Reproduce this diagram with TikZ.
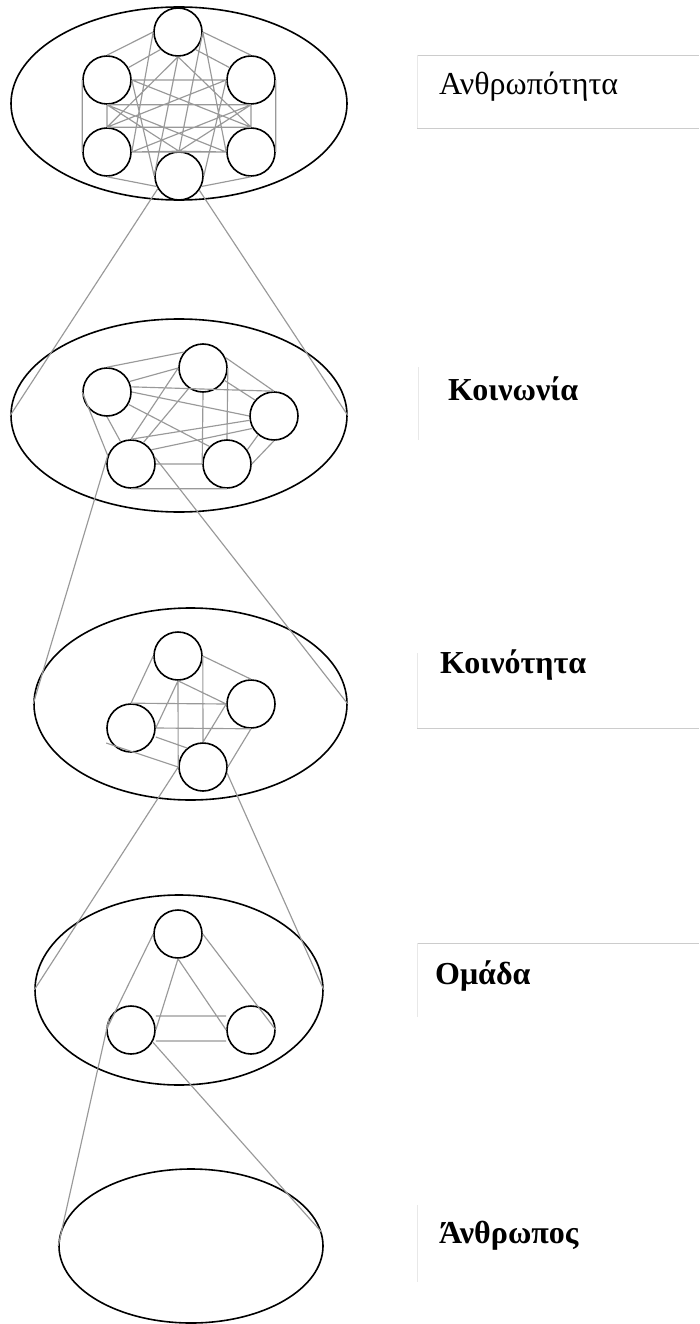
\documentclass[tikz,border=0pt]{standalone}
\usepackage{fontspec}
\setmainfont{Liberation Serif}
\usetikzlibrary{shapes.geometric}
\begin{document}
\begin{tikzpicture}[x=1pt,y=-1pt,
  person/.style={circle,draw=black,line width=1.6pt,minimum size=48pt,inner sep=0pt},
  group/.style={ellipse,draw=black,line width=1.6pt,inner sep=0pt},
  link/.style={draw=black!40,line width=1.15pt},
  frame/.style={draw=black!20,line width=0.9pt},
  framev/.style={draw=black!9,line width=0.9pt},
  lbl/.style={anchor=base west,inner sep=0pt,font=\fontsize{32}{38}\selectfont},
  lblb/.style={lbl,font=\fontsize{32}{38}\selectfont\bfseries}]
\useasboundingbox (0,0) rectangle (699,1324);
\fill[white] (0,0) rectangle (699,1324);

% ---------- ellipses ----------
\node[group,minimum width=336pt,minimum height=193pt] (g1) at (179,103.5) {};
\node[group,minimum width=336pt,minimum height=193pt] (g2) at (179,415.5) {};
\node[group,minimum width=313pt,minimum height=192pt] (g3) at (190.5,704) {};
\node[group,minimum width=288pt,minimum height=190pt] (g4) at (179,990) {};
\node[group,minimum width=264pt,minimum height=154pt] (g5) at (191,1246) {};

% ---------- level 1 ----------
\node[person] (at) at (178,32) {};
\node[person] (aul) at (107,80) {};
\node[person] (aur) at (251,80) {};
\node[person] (all) at (107,152) {};
\node[person] (alr) at (251,152) {};
\node[person] (ab) at (179,176) {};
\path[link]
  (aul.east) -- (aur.west)  (aul.south) -- (aur.south)
  (all.east) -- (alr.west)  (all.north) -- (alr.north)
  (aul.west) -- (all.west)  (aul.south) -- (all.north)
  (aur.east) -- (alr.east)  (aur.south) -- (alr.north)
  (aul.east) -- (alr.north) (aul.south) -- (alr.west)
  (aur.west) -- (all.north) (aur.south) -- (all.east)
  (at.west) -- (aul.north)  (at.225) -- (aul.30)
  (at.east) -- (aur.north)  (at.315) -- (aur.150)
  (at.south) -- (all.north) (at.west) -- (all.east)
  (at.south) -- (alr.north) (at.east) -- (alr.west)
  (at.south) -- (ab.west)   (at.east) -- (ab.north)
  (ab.205) -- (all.south)   (ab.north) -- (all.east)
  (ab.335) -- (alr.south)   (ab.north) -- (alr.west)
  (ab.north) -- (aul.south) (ab.west) -- (aul.east)
  (ab.north) -- (aur.south) (ab.east) -- (aur.west);

% ---------- level 2 ----------
\node[person] (ba) at (107,392) {};
\node[person] (bb) at (203,368) {};
\node[person] (bc) at (274,416) {};
\node[person] (bd) at (131,464) {};
\node[person] (be) at (227,464) {};
\path[link]
  (ba.north) -- (bb.140)   (ba.25) -- (bb.west)
  (ba.12) -- (bc.north)    (ba.east) -- (bc.west)
  (ba.330) -- (be.135)
  (ba.west) -- (bd.160)    (ba.south) -- (bd.115)
  (bb.west) -- (bd.north)  (bb.235) -- (bd.60)
  (bb.south) -- (be.west)  (bb.east) -- (be.north)
  (bb.25) -- (bc.north)    (bb.330) -- (bc.140)
  (bc.190) -- (bd.north)   (bc.210) -- (bd.35)
  (bc.south) -- (be.east)  (bc.230) -- (be.35)
  (bd.east) -- (be.west)   (bd.south) -- (be.south);

% ---------- level 3 ----------
\node[person] (ct) at (178,656) {};
\node[person] (cr) at (251,704) {};
\node[person] (cl) at (131,728) {};
\node[person] (cb) at (203,767) {};
\path[link]
  (ct.west) -- (cl.north)   (ct.south) -- (cl.east)
  (ct.south) -- (cb.west)   (ct.east) -- (cb.north)
  (ct.east) -- (cr.north)   (ct.south) -- (cr.west)
  (cl.north) -- (cr.west)   (cl.east) -- (cr.south)
  ([yshift=-15pt]cl.west) -- (cb.west)
  ([yshift=-9pt]cl.east) -- (cb.130)
  (cr.west) -- (cb.north)   (cr.south) -- (cb.east);

% ---------- level 4 ----------
\node[person] (dt) at (178,934) {};
\node[person] (dl) at (131,1030) {};
\node[person] (dr) at (251,1030) {};
\path[link]
  (dt.west) -- (dl.west)    (dt.south) -- (dl.east)
  (dt.south) -- (dr.west)   (dt.east) -- (dr.east)
  ([yshift=14pt]dl.east) -- ([yshift=14pt]dr.west)
  ([yshift=-11pt]dl.east) -- ([yshift=-11pt]dr.west);

% ---------- zoom cones ----------
\path[link]
  (ab.211) -- (g2.west)  (ab.325) -- (g2.east)
  (bd.160) -- (g3.west)  (bd.16) -- (g3.east)
  (cb.west) -- (g4.west) (cb.346) -- (g4.east)
  (dl.152) -- (g5.west)  (dl.331) -- (g5.6);

% ---------- label frames ----------
\coordinate (f1a) at (417,55);  \coordinate (f1b) at (699,55);
\coordinate (f1c) at (417,128); \coordinate (f1d) at (699,128);
\draw[frame] (f1a) -- (f1b) (f1c) -- (f1d);
\draw[framev] (f1a) -- (f1c);
\coordinate (f2a) at (418,367); \coordinate (f2b) at (418,440);
\draw[framev] (f2a) -- (f2b);
\coordinate (f3a) at (417,653); \coordinate (f3b) at (417,728); \coordinate (f3c) at (699,728);
\draw[framev] (f3a) -- (f3b);
\draw[frame] (f3b) -- (f3c);
\coordinate (f4a) at (417,943); \coordinate (f4b) at (699,943); \coordinate (f4c) at (417,1017);
\draw[frame] (f4a) -- (f4b);
\draw[framev] (f4a) -- (f4c);
\coordinate (f5a) at (417,1205); \coordinate (f5b) at (417,1282);
\draw[framev] (f5a) -- (f5b);

% ---------- labels ----------
\node[lbl]  (t1) at (439,95)   {Ανθρωπότητα};
\node[lblb] (t2) at (448,400)  {Κοινωνία};
\node[lblb] (t3) at (440,673)  {Κοινότητα};
\node[lblb] (t4) at (435,984)  {Ομάδα};
\node[lblb] (t5) at (439,1243) {Άνθρωπος};
\end{tikzpicture}
\end{document}
